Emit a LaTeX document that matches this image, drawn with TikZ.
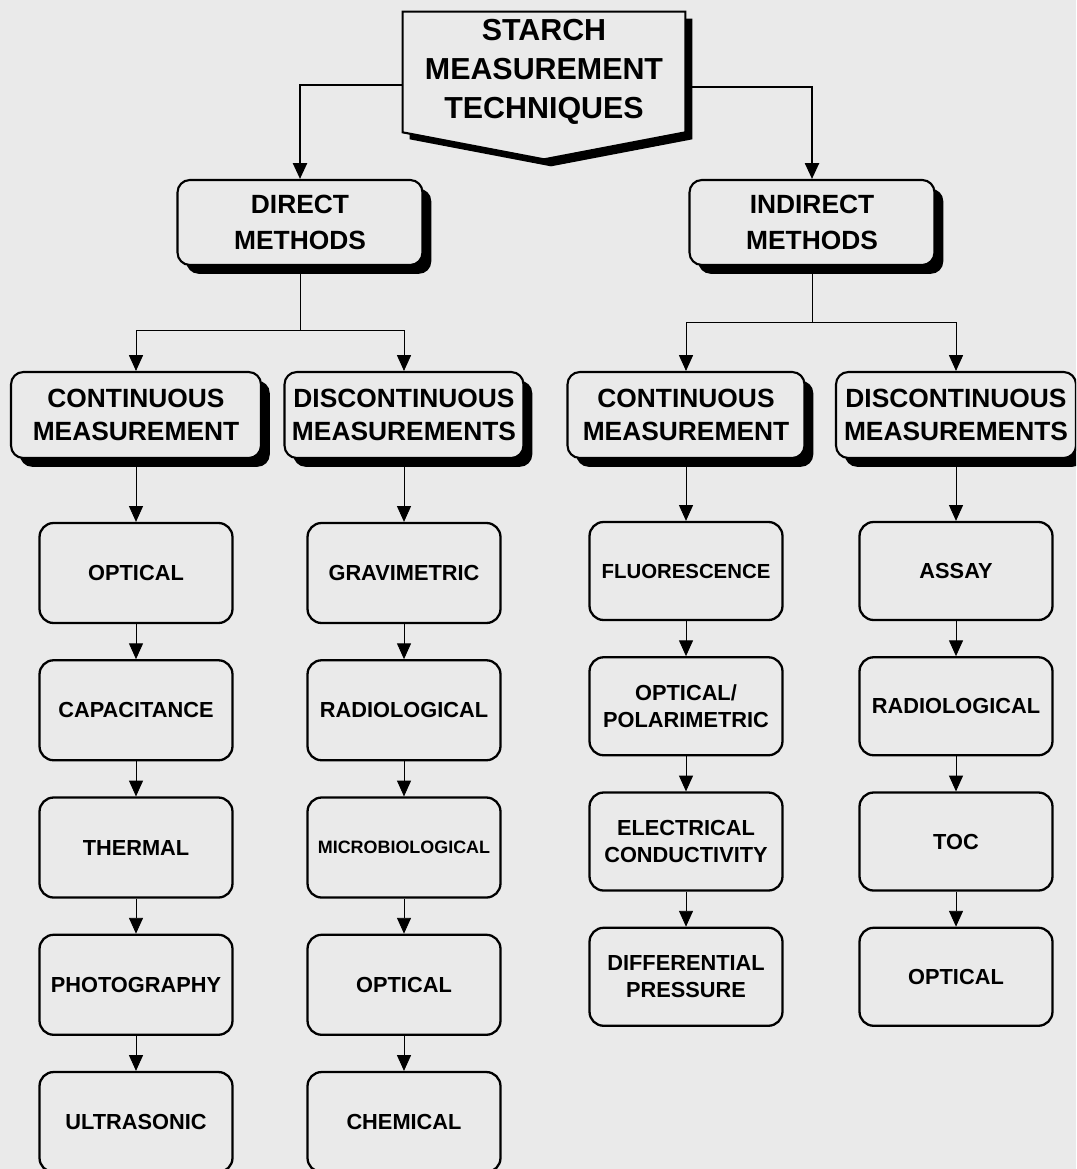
\documentclass[tikz,border=0pt]{standalone}
\usepackage{fontspec}
\setmainfont{Liberation Sans}
\usepackage{xcolor}
\usepackage{tikz}
\usetikzlibrary{positioning,arrows.meta,shadows,calc,backgrounds}
\definecolor{paper}{HTML}{EAEAEA}

\begin{document}
\begin{tikzpicture}[
  x=0.02cm, y=-0.02cm,
  node distance=0.7cm,
  mainbox/.style={rectangle, draw, line width=1.2pt, rounded corners=7pt, fill=paper,
                  drop shadow={shadow xshift=5pt, shadow yshift=-5pt, fill=black, opacity=1},
                  minimum width=4.9cm, minimum height=1.7cm, align=center,
                  font=\bfseries\fontsize{15}{20.4}\selectfont},
  groupbox/.style={mainbox, minimum height=1.72cm, font=\bfseries\fontsize{15}{18.7}\selectfont},
  techbox/.style={rectangle, draw, line width=1.3pt, rounded corners=8pt, fill=paper,
                  minimum width=3.86cm, minimum height=2cm, align=center,
                  font=\bfseries\fontsize{12.4}{15.5}\selectfont},
  arrow/.style={-{Triangle[length=9pt,width=8pt]}, line width=0.5pt},
  bigarrow/.style={arrow, line width=1.1pt}
]
\useasboundingbox (0,0) rectangle (1076,1169);
\clip (0,0) rectangle (1076,1169);
\begin{scope}[on background layer]
  \fill[paper] (0,0) rectangle (1076,1169);
\end{scope}

% title
\node[font=\bfseries\fontsize{17.3}{22}\selectfont, align=center,
      minimum width=5.64cm, minimum height=2.4cm] (title) at (544,72)
      {STARCH\\MEASUREMENT\\TECHNIQUES};
\begin{scope}[on background layer]
  \fill ([shift={(7,7)}]title.north west) -- ([shift={(7,7)}]title.north east)
    -- ([shift={(7,7)}]title.south east) -- ($(title.south)+(7,34)$)
    -- ([shift={(7,7)}]title.south west) -- cycle;
  \draw[fill=paper, line width=1.2pt] (title.north west) -- (title.north east)
    -- (title.south east) -- ($(title.south)+(0,27)$) -- (title.south west) -- cycle;
\end{scope}

% methods
\node[mainbox] (direct) at (300,222.5) {DIRECT\\METHODS};
\node[mainbox] (indirect) at (812,222.5) {INDIRECT\\METHODS};

\draw[bigarrow] ($(title.west)+(0,13)$) -| (direct);
\draw[bigarrow] ($(title.east)+(0,15)$) -| (indirect);

% measurement groups
\node[groupbox, minimum width=5.0cm] (contA) at (136,415) {CONTINUOUS\\MEASUREMENT};
\node[groupbox, minimum width=4.78cm] (discA) at (404,415) {DISCONTINUOUS\\MEASUREMENTS};
\node[groupbox, minimum width=4.74cm] (contB) at (686,415) {CONTINUOUS\\MEASUREMENT};
\node[groupbox, minimum width=4.8cm] (discB) at (956,415) {DISCONTINUOUS\\MEASUREMENTS};

\coordinate (dsplit) at (300,330);
\coordinate (isplit) at (812,322);
\draw[line width=0.5pt] (direct) -- (dsplit);
\draw[line width=0.5pt] (indirect) -- (isplit);
\draw[arrow] (dsplit) -| (contA);
\draw[arrow] (dsplit) -| (discA);
\draw[arrow] (isplit) -| (contB);
\draw[arrow] (isplit) -| (discB);

% direct techniques
\node[techbox] (opticA) at (136,573) {OPTICAL};
\node[techbox, below=of opticA] (capac) {CAPACITANCE};
\node[techbox, below=of capac] (thermal) {THERMAL};
\node[techbox, below=of thermal] (photo) {PHOTOGRAPHY};
\node[techbox, below=of photo] (ultra) {ULTRASONIC};

\node[techbox] (gravi) at (404,573) {GRAVIMETRIC};
\node[techbox, below=of gravi] (radioA) {RADIOLOGICAL};
\node[techbox, below=of radioA, font=\bfseries\fontsize{10.2}{12}\selectfont] (micro) {MICROBIOLOGICAL};
\node[techbox, below=of micro] (opticB) {OPTICAL};
\node[techbox, below=of opticB] (chem) {CHEMICAL};

% indirect techniques
\node[techbox, minimum height=1.96cm, font=\bfseries\fontsize{11.6}{15.5}\selectfont] (fluor) at (686,571) {FLUORESCENCE};
\node[techbox, minimum height=1.96cm, below=0.7cm of fluor] (polar) {OPTICAL/\\POLARIMETRIC};
\node[techbox, minimum height=1.96cm, below=0.7cm of polar] (elec) {ELECTRICAL\\CONDUCTIVITY};
\node[techbox, minimum height=1.96cm, below=0.7cm of elec] (press) {DIFFERENTIAL\\PRESSURE};

\node[techbox, minimum height=1.96cm] (assay) at (956,571) {ASSAY};
\node[techbox, minimum height=1.96cm, below=0.7cm of assay] (radioB) {RADIOLOGICAL};
\node[techbox, minimum height=1.96cm, below=0.7cm of radioB] (toc) {TOC};
\node[techbox, minimum height=1.96cm, below=0.7cm of toc] (opticC) {OPTICAL};

\foreach \i/\j in {contA/opticA, opticA/capac, capac/thermal, thermal/photo, photo/ultra,
                   discA/gravi, gravi/radioA, radioA/micro, micro/opticB, opticB/chem,
                   contB/fluor, fluor/polar, polar/elec, elec/press,
                   discB/assay, assay/radioB, radioB/toc, toc/opticC} {
  \draw[arrow] (\i) -- (\j);
}

\end{tikzpicture}
\end{document}
